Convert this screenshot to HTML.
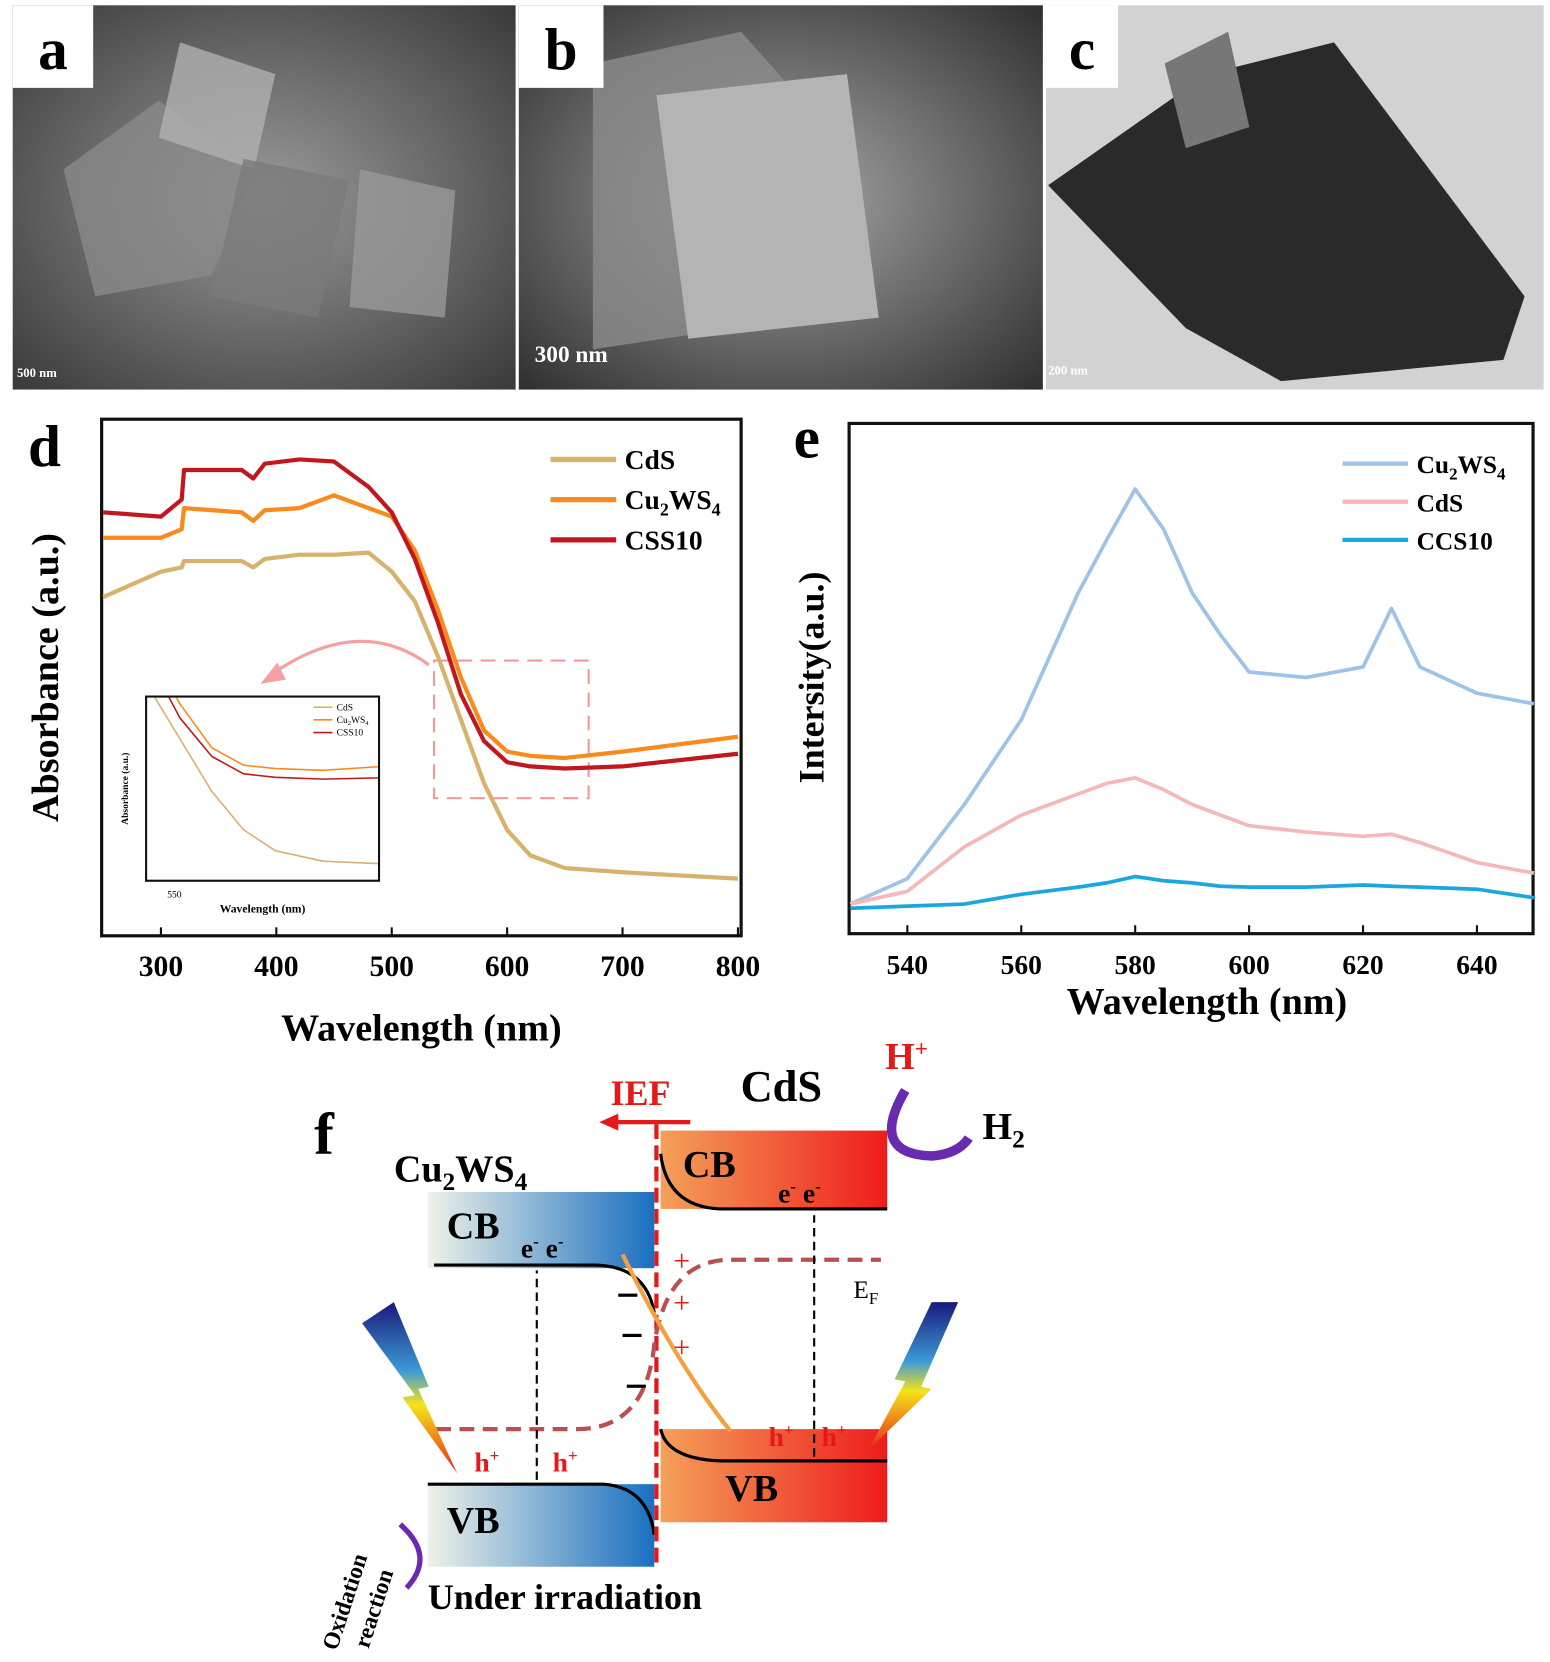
<!DOCTYPE html>
<html><head><meta charset="utf-8"><style>
html,body{margin:0;padding:0;background:#fff;}
svg{display:block;font-family:"Liberation Serif",serif;}
</style></head><body>
<svg width="1550" height="1662" viewBox="0 0 1464 1570" preserveAspectRatio="none" xmlns="http://www.w3.org/2000/svg">
<defs>
<radialGradient id="semA" cx="0.5" cy="0.5" r="0.7"><stop offset="0" stop-color="#9a9a9a"/><stop offset="1" stop-color="#3a3a3a"/></radialGradient>
<radialGradient id="semB" cx="0.5" cy="0.5" r="0.7"><stop offset="0" stop-color="#a8a8a8"/><stop offset="1" stop-color="#303030"/></radialGradient>
<linearGradient id="cuG" x1="0" x2="1"><stop offset="0" stop-color="#eef2e8"/><stop offset="1" stop-color="#1a6fc0"/></linearGradient>
<linearGradient id="cdG" x1="0" x2="1"><stop offset="0" stop-color="#f4a05a"/><stop offset="1" stop-color="#ee1c1c"/></linearGradient>
<linearGradient id="bolt" x1="0" y1="0" x2="0" y2="1"><stop offset="0" stop-color="#1a1a7a"/><stop offset="0.4" stop-color="#3c9ad8"/><stop offset="0.6" stop-color="#f4e41a"/><stop offset="1" stop-color="#e8241a"/></linearGradient>
</defs>

<g>
<rect x="12" y="5" width="475" height="363" fill="url(#semA)"/>
<polygon points="60,160 150,95 240,160 200,260 90,280" fill="#8a8a8a" opacity="0.8"/>
<polygon points="170,40 260,70 240,160 150,130" fill="#b0b0b0" opacity="0.8"/>
<polygon points="230,150 330,170 300,300 200,280" fill="#7a7a7a" opacity="0.8"/>
<polygon points="340,160 430,180 420,300 330,290" fill="#999" opacity="0.8"/>
<rect x="12" y="5" width="76" height="78" fill="#fff"/>
<text x="50" y="65" font-size="56" font-weight="bold" text-anchor="middle">a</text>
<text x="16" y="356" font-size="12" fill="#fff" font-weight="bold">500 nm</text>
</g>
<g>
<rect x="490" y="5" width="495" height="363" fill="url(#semB)"/>
<polygon points="560,60 700,30 780,120 760,300 560,330" fill="#8c8c8c" opacity="0.8"/>
<polygon points="620,90 800,70 830,300 650,320" fill="#b4b4b4"/>
<rect x="490" y="5" width="80" height="78" fill="#fff"/>
<text x="530" y="65" font-size="56" font-weight="bold" text-anchor="middle">b</text>
<text x="505" y="342" font-size="22" fill="#fff" font-weight="bold">300 nm</text>
</g>
<g>
<rect x="988" y="5" width="470" height="363" fill="#d2d2d2"/>
<polygon points="990,175 1140,70 1260,40 1440,280 1420,340 1210,360 1120,310" fill="#2a2a2a"/>
<polygon points="1100,60 1160,30 1180,120 1120,140" fill="#777"/>
<rect x="988" y="5" width="68" height="78" fill="#fff"/>
<text x="1022" y="65" font-size="56" font-weight="bold" text-anchor="middle">c</text>
<text x="990" y="354" font-size="12" fill="#fff" font-weight="bold">200 nm</text>
</g>

<g id="chartD">
<text x="42" y="440" font-size="56" font-weight="bold" text-anchor="middle">d</text>
<rect x="96" y="396" width="604" height="488" fill="none" stroke="#111" stroke-width="3"/>
<text transform="translate(55,640) rotate(-90)" font-size="36" font-weight="bold" text-anchor="middle">Absorbance (a.u.)</text>
<text x="398" y="983" font-size="36" font-weight="bold" text-anchor="middle">Wavelength (nm)</text>
<rect x="410" y="624" width="146" height="130" fill="none" stroke="#f29a9a" stroke-width="2" stroke-dasharray="14,8"/>
<path d="M405,628 Q340,580 258,636" fill="none" stroke="#f4a0a0" stroke-width="3"/>
<polygon points="246,646 262,626 270,642" fill="#f4a0a0"/>
<rect x="138" y="658" width="220" height="174" fill="#fff" stroke="#111" stroke-width="2"/>
<g id="dg"></g>
</g>

<g id="chartE">
<text x="762" y="432" font-size="56" font-weight="bold" text-anchor="middle">e</text>
<rect x="802" y="400" width="646" height="482" fill="none" stroke="#111" stroke-width="3"/>
<text transform="translate(778,640) rotate(-90)" font-size="34" font-weight="bold" text-anchor="middle">Intersity(a.u.)</text>
<text x="1140" y="958" font-size="36" font-weight="bold" text-anchor="middle">Wavelength (nm)</text>
<g id="eg"></g>
</g>

<g>
<text x="306" y="1090" font-size="56" font-weight="bold" text-anchor="middle">f</text>
<rect x="404" y="1126" width="214" height="72" fill="url(#cuG)"/>
<rect x="404" y="1402" width="214" height="78" fill="url(#cuG)"/>
<rect x="624" y="1068" width="214" height="74" fill="url(#cdG)"/>
<rect x="624" y="1350" width="214" height="88" fill="url(#cdG)"/>
<path d="M410,1195 L560,1195 Q610,1195 618,1240" fill="none" stroke="#000" stroke-width="3"/>
<path d="M404,1402 L570,1402 Q612,1405 618,1450" fill="none" stroke="#000" stroke-width="3"/>
<path d="M624,1090 Q630,1140 680,1142 L838,1142" fill="none" stroke="#000" stroke-width="3"/>
<path d="M624,1350 Q630,1378 680,1380 L838,1380" fill="none" stroke="#000" stroke-width="3"/>
<line x1="620" y1="1062" x2="620" y2="1482" stroke="#e41a1a" stroke-width="4" stroke-dasharray="14,6"/>
<path d="M412,1350 L545,1350 Q610,1350 618,1270 Q630,1190 690,1190 L832,1190" fill="none" stroke="#b85050" stroke-width="4" stroke-dasharray="14,8"/>
<path d="M588,1185 Q640,1290 690,1352" fill="none" stroke="#f4a040" stroke-width="4"/>
<line x1="507" y1="1398" x2="507" y2="1200" stroke="#000" stroke-width="2" stroke-dasharray="8,5"/>
<line x1="769" y1="1376" x2="769" y2="1148" stroke="#000" stroke-width="2" stroke-dasharray="8,5"/>
<line x1="652" y1="1060" x2="578" y2="1060" stroke="#e41a1a" stroke-width="4"/>
<polygon points="566,1060 584,1052 584,1068" fill="#e41a1a"/>
<text x="605" y="1044" font-size="34" font-weight="bold" fill="#e41a1a" text-anchor="middle">IEF</text>
<text x="738" y="1040" font-size="42" font-weight="bold" text-anchor="middle">CdS</text>
<text x="372" y="1116" font-size="36" font-weight="bold">Cu<tspan font-size="24" dy="8">2</tspan><tspan dy="-8">WS</tspan><tspan font-size="24" dy="8">4</tspan></text>
<text x="422" y="1170" font-size="36" font-weight="bold">CB</text>
<text x="492" y="1188" font-size="26" font-weight="bold">e<tspan font-size="16" dy="-10">-</tspan><tspan dy="10"> e</tspan><tspan font-size="16" dy="-10">-</tspan></text>
<text x="645" y="1112" font-size="36" font-weight="bold">CB</text>
<text x="735" y="1136" font-size="26" font-weight="bold">e<tspan font-size="16" dy="-10">-</tspan><tspan dy="10"> e</tspan><tspan font-size="16" dy="-10">-</tspan></text>
<text x="685" y="1418" font-size="36" font-weight="bold">VB</text>
<text x="422" y="1448" font-size="36" font-weight="bold">VB</text>
<text x="448" y="1390" font-size="26" font-weight="bold" fill="#e41a1a">h<tspan font-size="16" dy="-10">+</tspan></text>
<text x="522" y="1390" font-size="26" font-weight="bold" fill="#e41a1a">h<tspan font-size="16" dy="-10">+</tspan></text>
<text x="726" y="1366" font-size="26" font-weight="bold" fill="#e41a1a">h<tspan font-size="16" dy="-10">+</tspan></text>
<text x="776" y="1366" font-size="26" font-weight="bold" fill="#e41a1a">h<tspan font-size="16" dy="-10">+</tspan></text>
<text x="636" y="1200" font-size="28" fill="#e41a1a">+</text>
<text x="636" y="1240" font-size="28" fill="#e41a1a">+</text>
<text x="636" y="1282" font-size="28" fill="#e41a1a">+</text>
<rect x="584" y="1222" width="18" height="3" fill="#000"/>
<rect x="588" y="1260" width="18" height="3" fill="#000"/>
<rect x="592" y="1308" width="18" height="3" fill="#000"/>
<text x="806" y="1226" font-size="24">E<tspan font-size="16" dy="6">F</tspan></text>
<text x="836" y="1010" font-size="36" font-weight="bold" fill="#e41a1a">H<tspan font-size="22" dy="-12">+</tspan></text>
<path d="M855,1030 Q820,1090 880,1092 Q905,1090 915,1075" fill="none" stroke="#6a2ab0" stroke-width="9"/>
<text x="928" y="1076" font-size="36" font-weight="bold">H<tspan font-size="24" dy="8">2</tspan></text>
<polygon points="342,1250 372,1230 405,1310 395,1312 432,1392 380,1320 392,1318" fill="url(#bolt)"/>
<polygon points="880,1230 905,1230 870,1310 880,1312 820,1370 855,1305 845,1303" fill="url(#bolt)"/>
<path d="M378,1440 Q412,1470 384,1500" fill="none" stroke="#6a2ab0" stroke-width="5"/>
<text transform="translate(318,1560) rotate(-72)" font-size="22" font-weight="bold">Oxidation</text>
<text transform="translate(348,1558) rotate(-72)" font-size="22" font-weight="bold">reaction</text>
<text x="404" y="1520" font-size="34" font-weight="bold">Under irradiation</text>
</g>

<script>
const dWave = [250,300,318,320,370,380,390,420,450,480,500,520,540,560,580,600,620,650,700,800];
const dCdS  = [0.79,0.85,0.86,0.875,0.875,0.86,0.88,0.89,0.89,0.895,0.85,0.78,0.65,0.50,0.35,0.24,0.18,0.15,0.14,0.125];
const dCu   = [0.93,0.93,0.95,1.0,0.99,0.97,0.995,1.0,1.03,1.0,0.98,0.90,0.76,0.60,0.475,0.425,0.415,0.41,0.425,0.46];
const dCSS  = [0.99,0.98,1.02,1.09,1.09,1.07,1.105,1.115,1.11,1.05,0.99,0.88,0.73,0.56,0.45,0.40,0.39,0.385,0.39,0.42];
const dTicks = [300,400,500,600,700,800];
const dLegend = ["CdS","Cu2WS4","CSS10"];
const eWave = [530,540,550,560,570,575,580,585,590,595,600,610,620,625,630,640,650];
const eCu  = [0.07,0.13,0.305,0.505,0.805,0.93,1.05,0.955,0.805,0.705,0.618,0.605,0.63,0.768,0.63,0.568,0.543];
const eCdS = [0.07,0.10,0.205,0.28,0.33,0.355,0.368,0.34,0.305,0.28,0.255,0.24,0.23,0.235,0.215,0.168,0.143];
const eCCS = [0.06,0.065,0.07,0.093,0.11,0.12,0.135,0.125,0.12,0.112,0.11,0.11,0.115,0.112,0.11,0.105,0.085];
const eTicks = [540,560,580,600,620,640];
const eLegend = ["Cu2WS4","CdS","CCS10"];

const NS="http://www.w3.org/2000/svg";
function mk(tag,attrs,parent){const e=document.createElementNS(NS,tag);for(const k in attrs)e.setAttribute(k,attrs[k]);parent.appendChild(e);return e;}
function label(t,n,sub,dy){
  if(n!=='Cu2WS4'){t.textContent=n;return;}
  const parts=[['Cu',null,0],['2',sub,dy],['WS',null,-dy],['4',sub,dy]];
  parts.forEach(p=>{const s=mk('tspan',{},t);if(p[1])s.setAttribute('font-size',p[1]);if(p[2])s.setAttribute('dy',p[2]);s.textContent=p[0];});
}
const dx=v=>152+(v-300)*1.09, dy=v=>880-v*400;
const ex=v=>857+(v-540)*5.38, ey=v=>882-v*400;
const ix=v=>140+(v-540)*1.5, iy=v=>830-(v-0.1)*330;

const dg=document.getElementById('dg');
function series(g,xs,ys,fx,fy,color,w,name){
  let pts=[];xs.forEach((x,i)=>{pts.push(fx(x).toFixed(1)+","+fy(ys[i]).toFixed(1));});
  const p=mk('polyline',{points:pts.join(' '),fill:'none',stroke:color,'stroke-width':w,'stroke-linejoin':'round'},g);
  
  
  return p;
}
const cols=['#d7b26e','#f98a1c','#c0181e'];
const dData=[dCdS,dCu,dCSS];
dData.forEach((s,i)=>series(dg,dWave,s,dx,dy,cols[i],4,'line-'+dLegend[i].toLowerCase()));
const clip=mk('clipPath',{id:'insClip'},dg);mk('rect',{x:139,y:659,width:218,height:172},clip);
const ig=mk('g',{'clip-path':'url(#insClip)'},dg);
dData.forEach((s,i)=>{series(ig,dWave,s,ix,iy,cols[i],1.5,'inset-line-'+dLegend[i].toLowerCase());});
mk('text',{x:158,y:848,'font-size':9},dg).textContent='550';
mk('text',{x:248,y:862,'font-size':11,'font-weight':'bold','text-anchor':'middle'},dg).textContent='Wavelength (nm)';
mk('text',{transform:'translate(121,745) rotate(-90)','font-size':9,'font-weight':'bold','text-anchor':'middle'},dg).textContent='Absorbance (a.u.)';
dLegend.forEach((n,i)=>{
  mk('line',{x1:296,y1:668+i*12,x2:314,y2:668+i*12,stroke:cols[i],'stroke-width':1.5},dg);
  const t=mk('text',{x:318,y:671+i*12,'font-size':9},dg);
  label(t,n,6,2);
});
dLegend.forEach((n,i)=>{
  const y=434+i*38;
  const l=mk('line',{x1:520,y1:y,x2:582,y2:y,stroke:cols[i],'stroke-width':5},dg);
  
  
  const t=mk('text',{x:590,y:y+9,'font-size':26,'font-weight':'bold'},dg);
  
  
  label(t,n,17,6);
});
dTicks.forEach(v=>{
  mk('line',{x1:dx(v),y1:884,x2:dx(v),y2:876,stroke:'#111','stroke-width':2},dg);
  const t=mk('text',{x:dx(v),y:922,'font-size':28,'font-weight':'bold','text-anchor':'middle'},dg);
  
  
  t.textContent=v;
});
const eg=document.getElementById('eg');
const ecols=['#9dc3e6','#f4b8b8','#1aa7e0'];
[eCu,eCdS,eCCS].forEach((s,i)=>series(eg,eWave,s,ex,ey,ecols[i],3.5,'line-e-'+eLegend[i].toLowerCase()));
eLegend.forEach((n,i)=>{
  const y=438+i*36;
  const l=mk('line',{x1:1268,y1:y,x2:1330,y2:y,stroke:ecols[i],'stroke-width':4},eg);
  
  
  const t=mk('text',{x:1338,y:y+9,'font-size':24,'font-weight':'bold'},eg);
  
  
  label(t,n,16,6);
});
eTicks.forEach(v=>{
  mk('line',{x1:ex(v),y1:882,x2:ex(v),y2:874,stroke:'#111','stroke-width':2},eg);
  const t=mk('text',{x:ex(v),y:920,'font-size':26,'font-weight':'bold','text-anchor':'middle'},eg);
  
  
  t.textContent=v;
});
</script>
</svg>
</body></html>
